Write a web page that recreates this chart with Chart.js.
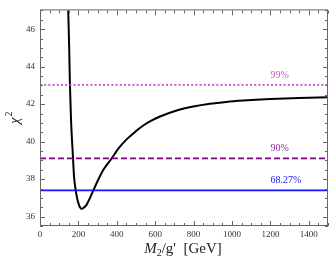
<!DOCTYPE html>
<html><head><meta charset="utf-8">
<script src="https://cdn.jsdelivr.net/npm/chart.js@4/dist/chart.umd.min.js"></script>
<style>html,body{margin:0;padding:0;background:#fff;}#wrap{width:329px;height:274px;}</style>
</head><body><div id="wrap"><canvas id="c" width="329" height="274"></canvas></div>
<script>
// Data
const massValues = [140, 147, 152, 156, 161.5, 166, 170, 177, 186, 193, 200, 208, 217, 228, 243, 258, 278, 300, 330, 373, 410, 451, 495, 538, 580, 625, 712, 798, 885, 970, 1059, 1200, 1350, 1500];
const chi2Values = [48.5, 47.0, 45.0, 43.0, 41.2, 40.2, 39.5, 38.17, 37.4, 37.0, 36.72, 36.5, 36.42, 36.48, 36.64, 36.95, 37.4, 37.9, 38.5, 39.1, 39.65, 40.12, 40.52, 40.86, 41.12, 41.34, 41.66, 41.87, 42.02, 42.12, 42.19, 42.27, 42.33, 42.37];
const levelNames = ['99%', '90%', '68.27%'];
const levelValues = [43.03, 39.11, 37.40];
const levelColors = ['#c44ec4', '#800080', '#1414ff'];
const levelTextColors = ['#c064c0', '#94309a', '#2020ff'];
const levelDashes = [[2, 2.2], [6, 3], []];
const xTickLabels = [0, 200, 400, 600, 800, 1000, 1200, 1400];
const yTickLabels = [36, 38, 40, 42, 44, 46];
const xRange = [0, 1500];
const yRange = [35.5, 47];

const serif = "'Liberation Serif', 'DejaVu Serif', serif";

const curve = massValues.map((m, i) => ({x: m, y: chi2Values[i]}));
const datasets = levelValues.map((v, i) => ({
  data: [{x: xRange[0], y: v}, {x: xRange[1], y: v}],
  borderColor: levelColors[i],
  borderWidth: 1.8,
  borderDash: levelDashes[i],
  pointRadius: 0,
  fill: false
}));
datasets.push({
  data: curve,
  borderColor: '#000',
  borderWidth: 2,
  pointRadius: 0,
  fill: false,
  cubicInterpolationMode: 'monotone'
});

const decor = {
  id: 'decor',
  afterDraw(chart) {
    const ctx = chart.ctx;
    const a = chart.chartArea;
    const xs = chart.scales.x, ys = chart.scales.y;
    ctx.save();
    // frame
    ctx.strokeStyle = '#666';
    ctx.lineWidth = 1;
    ctx.strokeRect(a.left + 0.5, a.top - 0.5, a.right - a.left - 1, a.bottom - a.top);
    // ticks
    ctx.beginPath();
    for (let v = xRange[0]; v <= xRange[1]; v += 50) {
      const px = Math.round(xs.getPixelForValue(v)) + 0.5;
      const len = (v % 200 === 0) ? 5 : 3;
      ctx.moveTo(px, a.bottom); ctx.lineTo(px, a.bottom - len);
      ctx.moveTo(px, a.top); ctx.lineTo(px, a.top + len);
    }
    for (let v = 35.5; v <= yRange[1] + 1e-9; v += 0.5) {
      const py = Math.round(ys.getPixelForValue(v)) + 0.5;
      const len = (Math.abs(v % 2) < 1e-9) ? 5 : 3;
      ctx.moveTo(a.left, py); ctx.lineTo(a.left + len, py);
      ctx.moveTo(a.right, py); ctx.lineTo(a.right - len, py);
    }
    ctx.stroke();
    // level labels
    ctx.font = '10px ' + serif;
    ctx.textAlign = 'left';
    ctx.textBaseline = 'alphabetic';
    levelValues.forEach((v, i) => {
      ctx.fillStyle = levelTextColors[i];
      ctx.fillText(levelNames[i], xs.getPixelForValue(1200), ys.getPixelForValue(v) - 7);
    });
    // y title
    ctx.fillStyle = '#222';
    ctx.save();
    ctx.translate(19, 124);
    ctx.rotate(-Math.PI / 2);
    ctx.textAlign = 'left';
    ctx.font = 'italic 15px ' + serif;
    ctx.fillText('\u03C7', 0, 0);
    const w = ctx.measureText('\u03C7').width;
    ctx.font = '10px ' + serif;
    ctx.fillText('2', w + 1, -7);
    ctx.restore();
    // x title
    const parts = [
      {t: 'M', f: 'italic 15px ' + serif, dy: 0},
      {t: '2', f: '10px ' + serif, dy: 3},
      {t: "/g'  [GeV]", f: '15px ' + serif, dy: 0}
    ];
    let total = 0;
    parts.forEach(p => { ctx.font = p.f; p.w = ctx.measureText(p.t).width; total += p.w; });
    let x = 183 - total / 2;
    parts.forEach(p => { ctx.font = p.f; ctx.fillText(p.t, x, 253 + p.dy); x += p.w; });
    ctx.restore();
  }
};

new Chart(document.getElementById('c'), {
  type: 'line',
  data: {datasets},
  options: {
    responsive: false,
    animation: false,
    devicePixelRatio: 1,
    layout: {padding: {left: 0, right: 1, top: 0, bottom: 0}},
    plugins: {legend: {display: false}, tooltip: {enabled: false}},
    scales: {
      x: {
        type: 'linear', min: xRange[0], max: xRange[1],
        afterFit(s) { s.height = 48; },
        afterBuildTicks(s) { s.ticks = xTickLabels.map(v => ({value: v})); },
        ticks: {padding: 3, font: {family: serif, size: 9}, color: '#333', maxRotation: 0, autoSkip: false,
                callback: v => String(v)},
        grid: {display: false, drawTicks: false},
        border: {display: false}
      },
      y: {
        type: 'linear', min: yRange[0], max: yRange[1],
        afterFit(s) { s.width = 40; },
        afterBuildTicks(s) { s.ticks = yTickLabels.map(v => ({value: v})); },
        ticks: {padding: 5, font: {family: serif, size: 9}, color: '#333', autoSkip: false,
                callback: v => String(v)},
        grid: {display: false, drawTicks: false},
        border: {display: false}
      }
    }
  },
  plugins: [decor]
});
</script></body></html>
